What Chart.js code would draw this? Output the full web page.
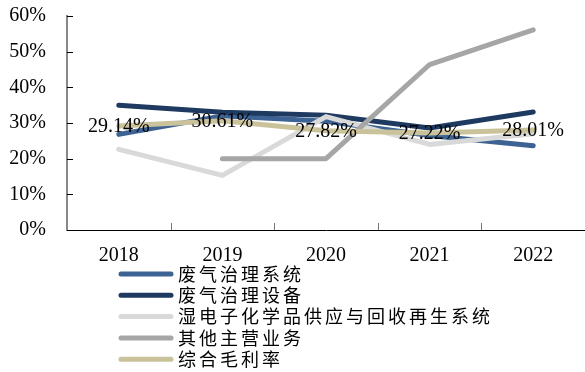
<!DOCTYPE html>
<html>
<head>
<meta charset="utf-8">
<script src="https://cdn.jsdelivr.net/npm/chart.js@4/dist/chart.umd.min.js"></script>
<style>
  html, body { margin: 0; padding: 0; background: #fff; }
  #wrap { width: 585px; height: 372px; }
</style>
</head>
<body>
<div id="wrap"><canvas id="grafico" width="585" height="372"></canvas></div>
<script>
const anios = ['2018', '2019', '2020', '2021', '2022'];
const sistemaGas = [26.8, 32.0, 30.5, 26.5, 23.6];
const equipoGas = [35.0, 33.0, 32.2, 28.6, 33.1];
const quimicaHumeda = [22.6, 15.3, 31.8, 24.0, 27.0];
const otrosNegocios = [null, 20.0, 20.0, 46.4, 56.1];
const margenTotal = [29.14, 30.61, 27.82, 27.22, 28.01];
const nombres = ['废气治理系统', '废气治理设备', '湿电子化学品供应与回收再生系统', '其他主营业务', '综合毛利率'];
const colores = ['#3c6393', '#1f3a60', '#d9d9d9', '#a6a6a6', '#c9c29a'];
const ticksY = [0, 10, 20, 30, 40, 50, 60];

const serie = (i, data) => ({
    label: nombres[i],
    data: data,
    borderColor: colores[i],
    backgroundColor: colores[i],
    borderWidth: 5,
    borderCapStyle: 'round',
    borderJoinStyle: 'round',
    pointRadius: 0,
    tension: 0,
    order: 5 - i
});

// marcas de los ejes y leyenda vertical
const extras = {
    id: 'extras',
    afterDatasetsDraw(chart) {
        const c = chart.ctx;
        c.save();
        // etiquetas del margen total
        const meta = chart.getDatasetMeta(4);
        c.font = '20px "Liberation Serif"';
        c.fillStyle = '#000';
        c.textAlign = 'center';
        c.textBaseline = 'middle';
        meta.data.forEach((p, i) => {
            c.fillText(margenTotal[i].toFixed(2) + '%', p.x, p.y + 1);
        });
        c.restore();
    },
    afterDraw(chart) {
        const c = chart.ctx;
        const x = chart.scales.x, y = chart.scales.y;
        const area = chart.chartArea;
        c.save();
        // ticks internos eje y
        c.strokeStyle = '#000';
        c.lineWidth = 1;
        ticksY.forEach(v => {
            const py = Math.round(y.getPixelForValue(v)) + 0.5;
            c.beginPath();
            c.moveTo(area.left, py);
            c.lineTo(area.left + 6, py);
            c.stroke();
        });
        // ticks internos eje x entre categorias
        c.strokeStyle = '#777';
        for (let i = 0; i < anios.length - 1; i++) {
            const px = Math.round((x.getPixelForValue(i) + x.getPixelForValue(i + 1)) / 2) + 0.5;
            c.beginPath();
            c.moveTo(px, area.bottom);
            c.lineTo(px, area.bottom - 7);
            c.stroke();
        }
        // leyenda
        c.font = '18px "Noto Sans CJK SC"';
        c.letterSpacing = '3px';
        c.textAlign = 'left';
        c.textBaseline = 'middle';
        c.lineCap = 'round';
        nombres.forEach((n, i) => {
            const ly = 274 + i * 21.3;
            c.strokeStyle = colores[i];
            c.lineWidth = 5;
            c.beginPath();
            c.moveTo(121, ly);
            c.lineTo(171, ly);
            c.stroke();
            c.fillStyle = '#000';
            c.fillText(n, 178, ly);
        });
        c.restore();
    }
};

new Chart(document.getElementById('grafico'), {
    type: 'line',
    data: {
        labels: anios,
        datasets: [
            serie(0, sistemaGas),
            serie(1, equipoGas),
            serie(2, quimicaHumeda),
            serie(3, otrosNegocios),
            serie(4, margenTotal)
        ]
    },
    options: {
        responsive: false,
        animation: false,
        spanGaps: false,
        layout: { padding: { top: 16, right: 0, left: 0, bottom: 0 } },
        plugins: {
            legend: { display: false },
            tooltip: { enabled: false }
        },
        scales: {
            x: {
                offset: true,
                grid: { display: false, drawTicks: false },
                border: { display: true, color: '#000', width: 1 },
                ticks: { color: '#000', padding: 14, font: { size: 20, family: '"Liberation Serif"' }, maxRotation: 0 },
                afterFit: (s) => { s.height = 142; s.paddingLeft = 0; s.paddingRight = 0; }
            },
            y: {
                min: 0,
                max: 60,
                grid: { display: false, drawTicks: false },
                border: { display: true, color: '#888', width: 2 },
                ticks: {
                    stepSize: 10,
                    padding: 21,
                    color: '#000',
                    font: { size: 20, family: '"Liberation Serif"' },
                    callback: (v) => v + '%'
                },
                afterFit: (s) => { s.width = 67; s.paddingTop = 0; s.paddingBottom = 0; }
            }
        }
    },
    plugins: [extras]
});
</script>
</body>
</html>
